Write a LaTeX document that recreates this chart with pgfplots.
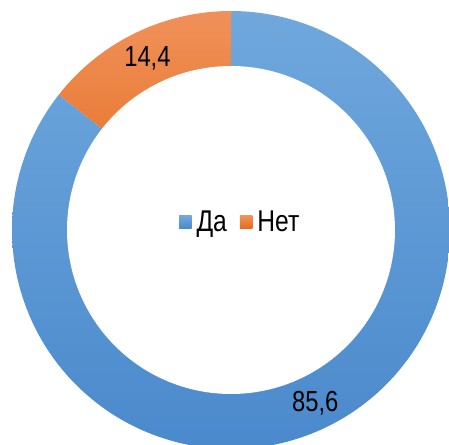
\documentclass[border=0pt]{standalone}
\usepackage{pgfplots}
\pgfplotsset{compat=1.18}
\usepgfplotslibrary{polar}
\usepackage{fontspec}
\setmainfont{Liberation Sans}[FakeStretch=0.82]
\definecolor{blueT}{HTML}{70A8DD}
\definecolor{blueB}{HTML}{4A89CC}
\definecolor{orT}{HTML}{F0915A}
\definecolor{orB}{HTML}{E46C1C}
% data (percent)
\def\valDa{85.6}
\def\valNet{14.4}
\pgfmathsetmacro{\aStart}{90}
\pgfmathsetmacro{\aNet}{90+\valNet*3.6}
\pgfmathsetmacro{\aEnd}{450}
\pgfmathsetmacro{\mNet}{(\aStart+\aNet)/2}
\pgfmathsetmacro{\mDa}{(\aNet+\aEnd)/2}
\begin{document}
\begin{tikzpicture}
\clip (0,0) rectangle (449bp,445bp);
\begin{polaraxis}[
  at={(231bp,215bp)}, anchor=center,
  scale only axis, width=438bp, height=438bp,
  hide axis, ymin=0, ymax=1, xmin=0, xmax=360,
  clip=false,
  legend style={at={(0.521,0.518)}, anchor=center, draw=none, fill=none,
    legend columns=2, font=\fontsize{30bp}{32bp}\selectfont,
    /tikz/every even column/.append style={column sep=11bp},
    /tikz/every odd column/.append style={column sep=3bp}},
  legend image code/.code={\fill[#1] (0bp,-6.25bp) rectangle (12.5bp,6.25bp);},
]
\addplot[draw=none, top color=blueT, bottom color=blueB, domain=\aNet:\aEnd, samples=240] {1} -- (axis cs:0,0) -- cycle;
\addlegendentry{Да}
\addplot[draw=none, top color=orT, bottom color=orB, domain=\aStart:\aNet, samples=60] {1} -- (axis cs:0,0) -- cycle;
\addlegendentry{Нет}
\addplot[forget plot, fill=white, draw=none, domain=0:360, samples=241] {164/219} -- cycle;
\node[font=\fontsize{29bp}{32bp}\selectfont] at (axis cs:\mNet,0.873) {14,4};
\node[font=\fontsize{29bp}{32bp}\selectfont] at (axis cs:\mDa,0.88) {85,6};
\end{polaraxis}
\end{tikzpicture}
\end{document}
